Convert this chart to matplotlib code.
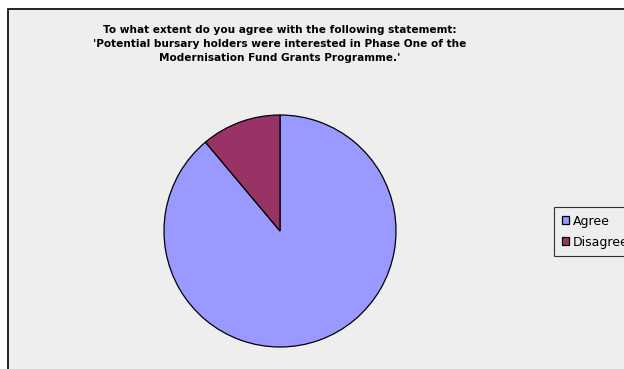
import matplotlib
matplotlib.use("Agg")
import matplotlib.pyplot as plt
from matplotlib.patches import Rectangle

labels = ["Agree", "Disagree"]
values = [8, 1]
colors = ["#9999FF", "#993366"]
title = ("To what extent do you agree with the following statememt:\n"
         "'Potential bursary holders were interested in Phase One of the\n"
         "Modernisation Fund Grants Programme.'")

W, H = 624, 369
fig = plt.figure(figsize=(W / 100, H / 100), dpi=100)
fig.patch.set_facecolor("white")

# chart area (cropped on right and bottom in the reference)
fig.patches.append(Rectangle((8 / W, -0.1), 1.2, 1.1 - 9 / H, transform=fig.transFigure,
                             facecolor="#EEEEEE", edgecolor="black", lw=1.2, zorder=-5))

fig.text(280 / W, 1 - 44 / H, title, ha="center", va="center", fontsize=7.6,
         fontweight="bold", linespacing=1.55)

cx, cy, r = 280, 231, 116
ax = fig.add_axes([(cx - r) / W, (H - cy - r) / H, 2 * r / W, 2 * r / H])
ax.patch.set_visible(False)
ax.set_zorder(2)
wedges, _ = ax.pie(values, colors=colors, startangle=90, counterclock=False,
                   wedgeprops=dict(edgecolor="black", linewidth=0.9, clip_on=False))
ax.set_xlim(-1, 1)
ax.set_ylim(-1, 1)
ax.set_aspect("equal")

leg = fig.legend(wedges, labels, loc="upper left", bbox_to_anchor=(554 / W, 1 - 207 / H),
                 frameon=True, fontsize=9, handlelength=0.6, handleheight=0.6,
                 handletextpad=0.3, borderpad=0.6, labelspacing=0.65, fancybox=False,
                 borderaxespad=0)
leg.get_frame().set_edgecolor("black")
leg.get_frame().set_facecolor("#EEEEEE")
leg.get_frame().set_linewidth(0.8)
leg.set_zorder(3)

fig.savefig("out.png", dpi=100, facecolor="white")
